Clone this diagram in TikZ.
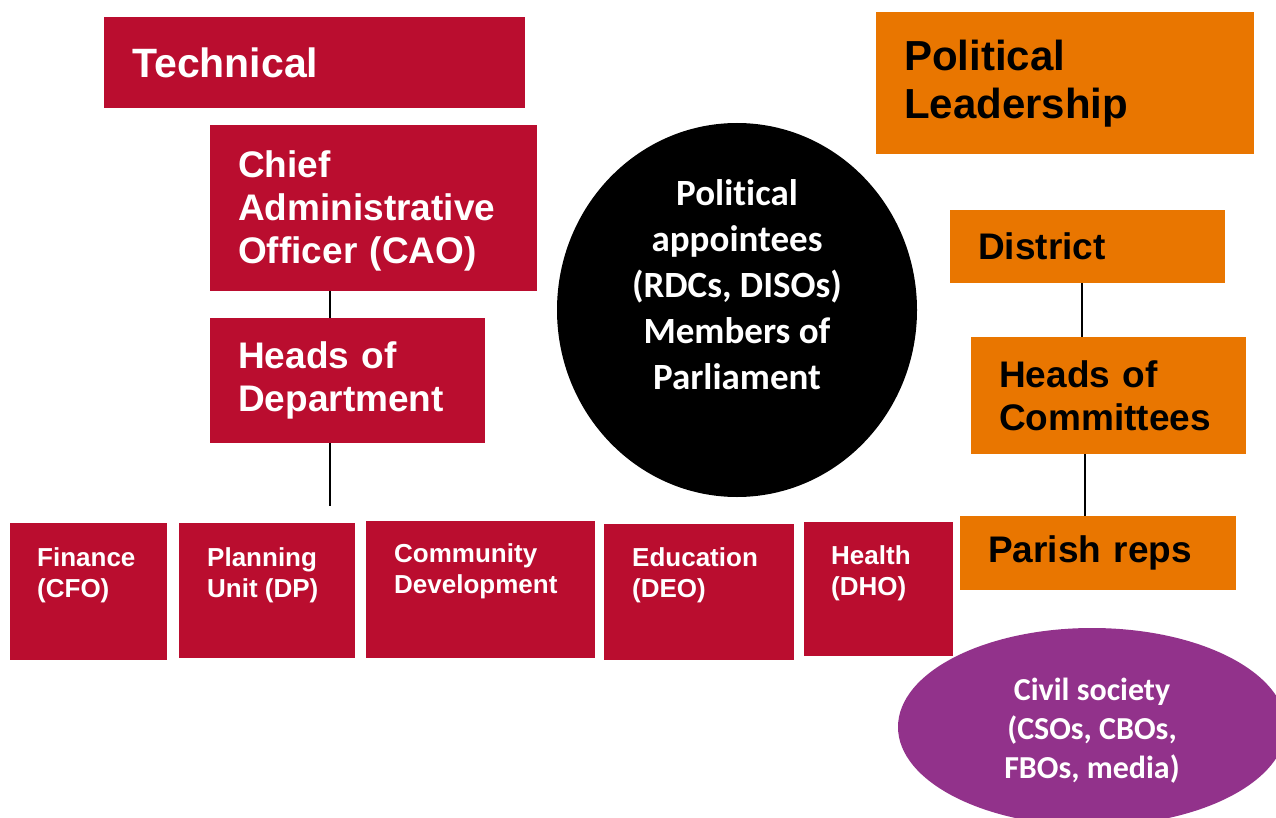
\documentclass[tikz,border=0pt]{standalone}
\usepackage{fontspec}
\setmainfont{Liberation Sans}
\newfontfamily\calfont[Ligatures=NoCommon]{Carlito}
\usetikzlibrary{shapes.geometric}

\definecolor{techred}{RGB}{186,13,47}
\definecolor{polorange}{RGB}{233,118,0}
\definecolor{civpurple}{RGB}{146,50,139}

\tikzset{
  redbox/.style={fill=techred, text=white, anchor=north west, align=left,
    inner xsep=28pt, inner ysep=0pt, font=\bfseries\fontsize{37pt}{43pt}\selectfont},
  orangebox/.style={redbox, fill=polorange, text=black},
  unitbox/.style={fill=techred, anchor=north west, inner sep=0pt},
  unitlbl/.style={anchor=north west, inner sep=0pt, text=white, align=left,
    font=\bfseries\fontsize{26pt}{31pt}\selectfont},
  link/.style={line width=1.5pt}
}

\begin{document}
\begin{tikzpicture}[x=1pt, y=-1pt]
  \useasboundingbox (0,0) rectangle (1276,818);

  % Technical side
  \node[redbox, text width=365pt, minimum height=91pt,
        font=\bfseries\fontsize{41pt}{47pt}\selectfont] (tech) at (104,17) {Technical};
  \node[redbox, text width=271pt, minimum height=166pt] (cao) at (210,125)
    {\rule{0pt}{32pt}Chief\\Administrative\\Officer (CAO)};
  \node[redbox, text width=219pt, minimum height=125pt] (hod) at (210,318)
    {Heads of\\Department};

  \draw[link] ([xshift=120pt]cao.south west) -- ([xshift=120pt]hod.north west);
  \coordinate (hod-end) at (330,506);
  \draw[link] ([xshift=120pt]hod.south west) -- (hod-end);

  % Departments
  \node[unitbox, minimum width=157pt, minimum height=137pt] (fin) at (10,523) {};
  \node[unitlbl] (fin-lbl) at ([shift={(27,24)}]fin.north west) {Finance\\(CFO)};

  \node[unitbox, minimum width=176pt, minimum height=135pt] (plan) at (179,523) {};
  \node[unitlbl] (plan-lbl) at ([shift={(28,24)}]plan.north west) {Planning\\Unit (DP)};

  \node[unitbox, minimum width=229pt, minimum height=137pt] (comm) at (366,521) {};
  \node[unitlbl] (comm-lbl) at ([shift={(28,22)}]comm.north west) {Community\\Development};

  \node[unitbox, minimum width=190pt, minimum height=136pt] (edu) at (604,524) {};
  \node[unitlbl] (edu-lbl) at ([shift={(28,23)}]edu.north west) {Education\\(DEO)};

  \node[unitbox, minimum width=149pt, minimum height=134pt] (hea) at (804,522) {};
  \node[unitlbl] (hea-lbl) at ([shift={(27,23)}]hea.north west) {Health\\(DHO)};

  % Political appointees
  \node[ellipse, fill=black, inner sep=0pt, minimum width=360pt, minimum height=374pt] (appt) at (737,310) {};
  \node[text=white, align=center, font=\calfont\bfseries\fontsize{37pt}{46pt}\selectfont] (appt-lbl)
    at ([yshift=25pt]appt.center) {Political\\appointees\\(RDCs, DISOs)\\Members of\\Parliament};

  % Political side
  \node[orangebox, text width=322pt, minimum height=142pt,
        font=\bfseries\fontsize{42pt}{48pt}\selectfont] (pol) at (876,12) {Political\\Leadership};
  \node[orangebox, text width=219pt, minimum height=73pt] (district) at (950,210) {District};
  \node[orangebox, text width=219pt, minimum height=117pt] (hoc) at (971,337) {Heads of\\Committees};
  \node[orangebox, text width=220pt, minimum height=74pt] (parish) at (960,516) {Parish reps};

  \draw[link] ([xshift=132pt]district.south west) -- ([xshift=111pt]hoc.north west);
  \draw[link] ([xshift=114pt]hoc.south west) -- ([xshift=125pt]parish.north west);

  % Civil society
  \node[ellipse, fill=civpurple, inner sep=0pt, minimum width=388pt, minimum height=198pt] (civil) at (1092,727) {};
  \node[text=white, align=center, font=\calfont\bfseries\fontsize{32pt}{39pt}\selectfont] (civil-lbl)
    at ([yshift=-4pt]civil.center) {Civil society\\(CSOs, CBOs,\\FBOs, media)};
\end{tikzpicture}
\end{document}
